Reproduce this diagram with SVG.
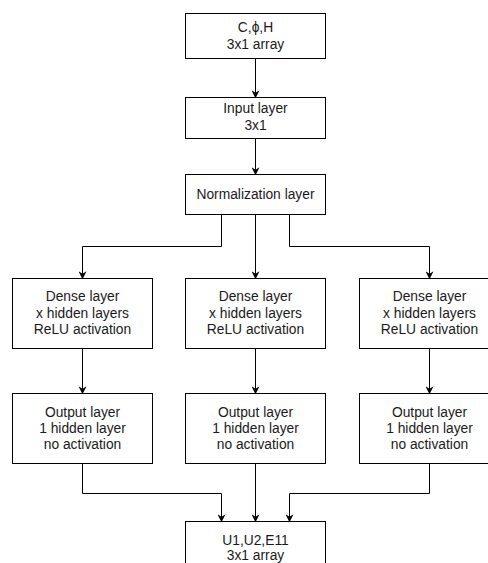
<svg xmlns="http://www.w3.org/2000/svg" width="488" height="563" viewBox="0 0 488 563">
  <style>
    .box { fill: #ffffff; stroke: #000000; stroke-width: 1; }
    .lbl { font-family: "Liberation Sans", Arial, Helvetica, sans-serif; font-size: 13.8px; fill: #1a1a1a; text-anchor: middle; }
    .edge { fill: none; stroke: #000000; stroke-width: 1; marker-end: url(#arrow); }
  </style>
  <defs>
    <marker id="arrow" viewBox="0 0 10 10" refX="9" refY="5" markerWidth="8" markerHeight="8" markerUnits="userSpaceOnUse" orient="auto">
      <path d="M0,0 L10,5 L0,10 L3,5 Z" fill="#000000"/>
    </marker>
  </defs>
  <rect width="488" height="563" fill="#ffffff"/>

  <!-- connectors -->
  <g id="connectors">
    <path class="edge" d="M255.5,58.5 V97.5"/>
    <path class="edge" d="M255.5,138.5 V174.5"/>
    <path class="edge" d="M221.5,214.5 V246.5 H82.5 V278.5"/>
    <path class="edge" d="M255.5,214.5 V278.5"/>
    <path class="edge" d="M289.5,214.5 V246.5 H429.5 V278.5"/>
    <path class="edge" d="M82.5,348.5 V393.5"/>
    <path class="edge" d="M255.5,348.5 V393.5"/>
    <path class="edge" d="M429.5,348.5 V393.5"/>
    <path class="edge" d="M82.5,463.5 V493.5 H221.5 V521.5"/>
    <path class="edge" d="M255.5,463.5 V521.5"/>
    <path class="edge" d="M429.5,463.5 V493.5 H289.5 V521.5"/>
  </g>

  <!-- nodes -->
  <g id="input-values">
    <rect class="box" x="185.5" y="13.5" width="140" height="45"/>
    <text class="lbl" x="255.5" y="32">C,ϕ,H</text>
    <text class="lbl" x="255.5" y="48.5">3x1 array</text>
  </g>
  <g id="input-layer">
    <rect class="box" x="185.5" y="97.5" width="140" height="41"/>
    <text class="lbl" x="255.5" y="113">Input layer</text>
    <text class="lbl" x="255.5" y="129.5">3x1</text>
  </g>
  <g id="normalization-layer">
    <rect class="box" x="185.5" y="174.5" width="140" height="40"/>
    <text class="lbl" x="255.5" y="199">Normalization layer</text>
  </g>

  <g id="dense-1">
    <rect class="box" x="12.5" y="278.5" width="140" height="70"/>
    <text class="lbl" x="82.5" y="301">Dense layer</text>
    <text class="lbl" x="82.5" y="317.5">x hidden layers</text>
    <text class="lbl" x="82.5" y="334">ReLU activation</text>
  </g>
  <g id="dense-2">
    <rect class="box" x="185.5" y="278.5" width="140" height="70"/>
    <text class="lbl" x="255.5" y="301">Dense layer</text>
    <text class="lbl" x="255.5" y="317.5">x hidden layers</text>
    <text class="lbl" x="255.5" y="334">ReLU activation</text>
  </g>
  <g id="dense-3">
    <rect class="box" x="359.5" y="278.5" width="140" height="70"/>
    <text class="lbl" x="429.5" y="301">Dense layer</text>
    <text class="lbl" x="429.5" y="317.5">x hidden layers</text>
    <text class="lbl" x="429.5" y="334">ReLU activation</text>
  </g>

  <g id="output-1">
    <rect class="box" x="12.5" y="393.5" width="140" height="70"/>
    <text class="lbl" x="82.5" y="417">Output layer</text>
    <text class="lbl" x="82.5" y="433">1 hidden layer</text>
    <text class="lbl" x="82.5" y="448.5">no activation</text>
  </g>
  <g id="output-2">
    <rect class="box" x="185.5" y="393.5" width="140" height="70"/>
    <text class="lbl" x="255.5" y="417">Output layer</text>
    <text class="lbl" x="255.5" y="433">1 hidden layer</text>
    <text class="lbl" x="255.5" y="448.5">no activation</text>
  </g>
  <g id="output-3">
    <rect class="box" x="359.5" y="393.5" width="140" height="70"/>
    <text class="lbl" x="429.5" y="417">Output layer</text>
    <text class="lbl" x="429.5" y="433">1 hidden layer</text>
    <text class="lbl" x="429.5" y="448.5">no activation</text>
  </g>

  <g id="result">
    <rect class="box" x="185.5" y="521.5" width="140" height="60"/>
    <text class="lbl" x="255.5" y="544.5">U1,U2,E11</text>
    <text class="lbl" x="255.5" y="560">3x1 array</text>
  </g>
</svg>
